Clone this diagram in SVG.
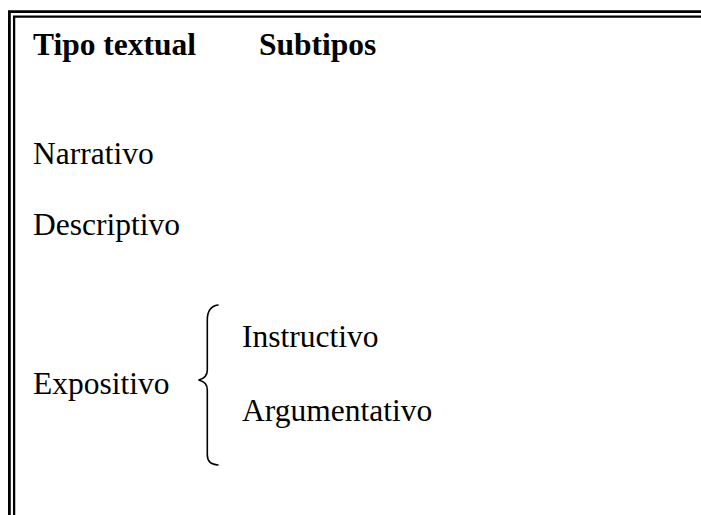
<svg xmlns="http://www.w3.org/2000/svg" width="701" height="515" viewBox="0 0 701 515">
  <style>
    .frame { fill: none; stroke: #000; }
    .head { font-family: "Liberation Serif", "Times New Roman", serif; font-size: 31.5px; font-weight: bold; fill: #000; }
    .item { font-family: "Liberation Serif", "Times New Roman", serif; font-size: 31.5px; fill: #000; }
    .brace { fill: none; stroke: #000; stroke-width: 1.6; stroke-linecap: round; }
  </style>
  <rect width="701" height="515" fill="#fff"/>

  <!-- double-rule frame, open toward the right and bottom -->
  <g id="frame">
    <path class="frame" stroke-width="2.8" d="M9.4,515 V11.6 H701"/>
    <path class="frame" stroke-width="2.3" d="M14.1,515 V16.6 H701"/>
  </g>

  <g id="header">
    <text class="head" x="33" y="55">Tipo textual</text>
    <text class="head" x="259" y="55">Subtipos</text>
  </g>

  <g id="narrativo">
    <text class="item" x="33" y="164">Narrativo</text>
  </g>
  <g id="descriptivo">
    <text class="item" x="33" y="235">Descriptivo</text>
  </g>
  <g id="expositivo">
    <text class="item" x="33" y="394">Expositivo</text>
  </g>
  <g id="instructivo">
    <text class="item" x="242" y="347">Instructivo</text>
  </g>
  <g id="argumentativo">
    <text class="item" x="242" y="421">Argumentativo</text>
  </g>

  <!-- curly brace grouping the subtypes of Expositivo -->
  <g id="connectors">
    <path class="brace" d="M218,305 C211,306 207.3,311 207.3,320 L207.3,370 C207.3,375.5 203.5,379 198.5,380 C203.5,381 207.3,384.5 207.3,390 L207.3,455 C207.3,461 211,464.5 218,465"/>
  </g>
</svg>
